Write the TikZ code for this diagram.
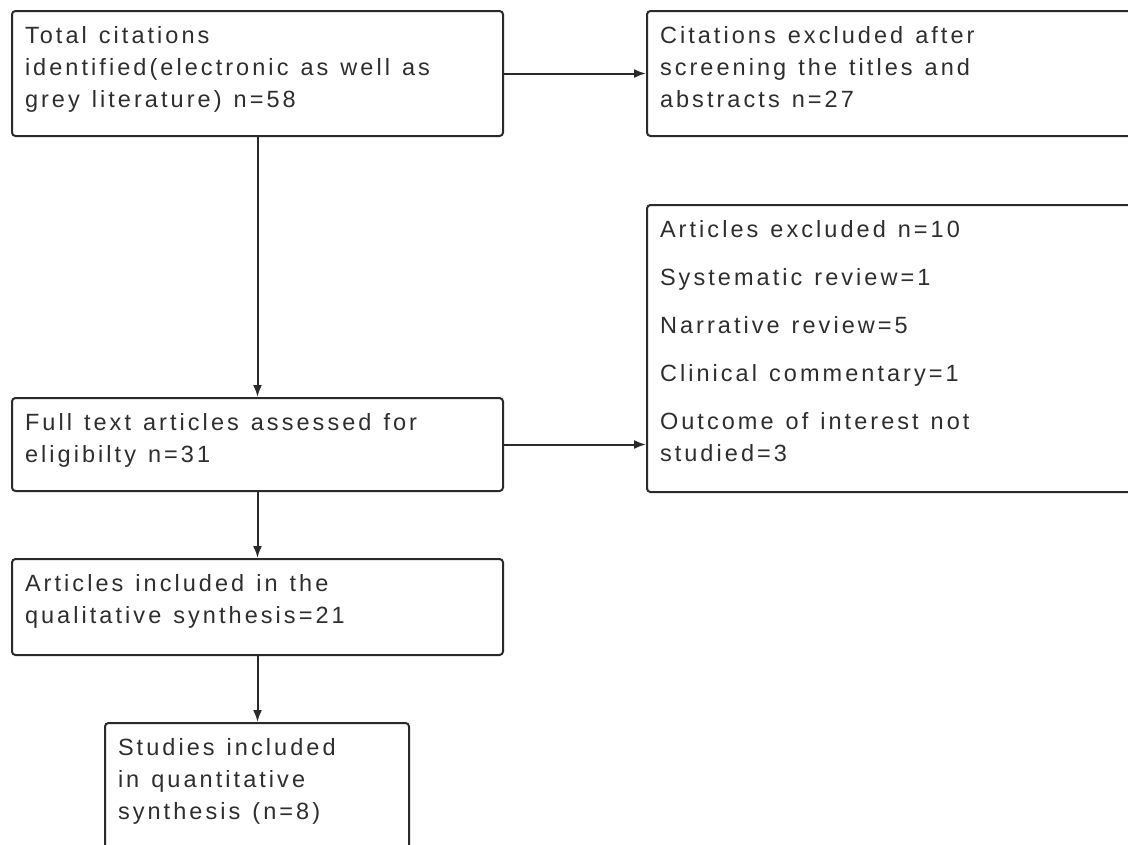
\documentclass[tikz,border=0pt]{standalone}
\usepackage{fontspec}
\setmainfont{Liberation Sans}[LetterSpace=13]
\usetikzlibrary{arrows.meta}
\definecolor{ink}{HTML}{2E2E2E}
\definecolor{edge}{HTML}{2A2A2A}
\newcommand{\boxfont}{\fontsize{23.5}{32}\selectfont}
\begin{document}
\begin{tikzpicture}[x=1pt,y=-1pt,
  box/.style={draw=edge, line width=2pt, rounded corners=3.5pt, anchor=north west,
    inner xsep=13pt, inner ysep=0pt, align=left, text=ink,
    font=\boxfont, text height=32pt,
    execute at begin node={\spaceskip=12pt plus 1pt minus 1pt\relax}},
  conn/.style={draw=edge, line width=2pt, -{Latex[length=12pt,width=9pt]}}]
\useasboundingbox (0,0) rectangle (1128,844);
\clip (0,0) rectangle (1128,844);
\fill[white] (0,0) rectangle (1128,844);
\node[box, text width=465pt, text depth=93pt] (b1) at (11,10)
  {Total citations\\identified(electronic as well as\\grey literature) n=58};
\node[box, text width=468pt, text depth=93pt] (b2) at (646,10)
  {Citations excluded after\\screening the titles and\\abstracts n=27};
\node[box, text width=468pt, text depth=255pt] (b3) at (646,204)
  {Articles excluded n=10\\[16pt]Systematic review=1\\[16pt]Narrative review=5\\[16pt]Clinical commentary=1\\[16pt]Outcome of interest not\\studied=3};
\node[box, text width=465pt, text depth=61pt] (b4) at (11,397)
  {Full text articles assessed for\\eligibilty n=31};
\node[box, text width=465pt, text depth=64pt] (b5) at (11,558)
  {Articles included in the\\qualitative synthesis=21};
\node[box, text width=278pt, text depth=110pt] (b6) at (104,722)
  {Studies included\\in quantitative\\synthesis (n=8)};
\draw[conn] (b1.east) -- (b2.west);
\draw[conn] (b1.south) -- (b4.north);
\draw[conn] (b4.east) -- (b4.east -| b3.west);
\draw[conn] (b4.south) -- (b5.north);
\draw[conn] (b5.south) -- (b5.south |- b6.north);
\end{tikzpicture}
\end{document}
